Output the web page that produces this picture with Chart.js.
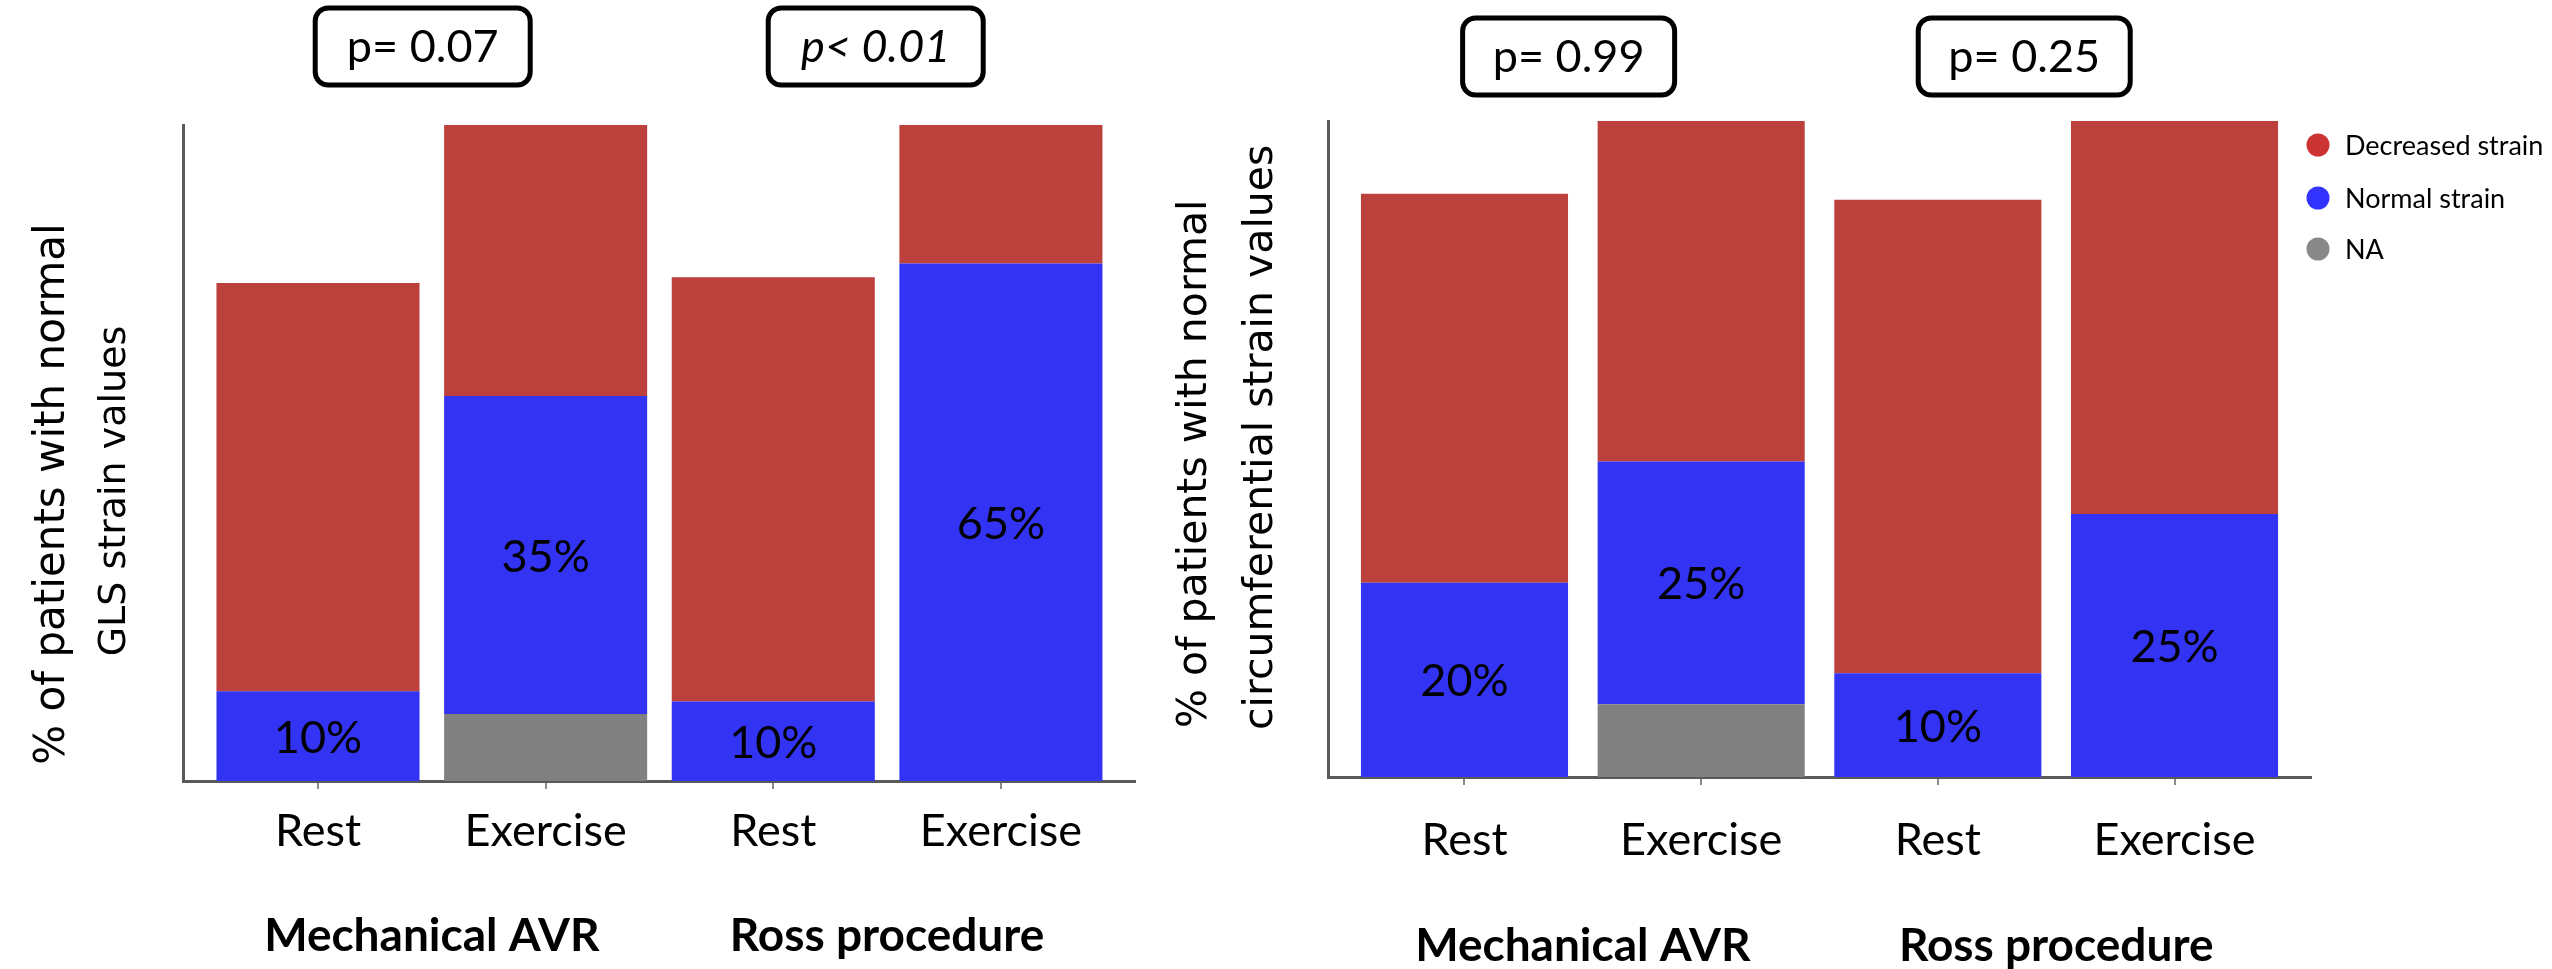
<!DOCTYPE html>
<html><head><meta charset="utf-8">
<script src="https://cdn.jsdelivr.net/npm/chart.js@4.4.1/dist/chart.umd.min.js"></script>
<style>
html,body{margin:0;padding:0;background:#fff;overflow:hidden;}
#wrap{position:relative;width:2552px;height:969px;background:#fff;}
canvas{position:absolute;top:0;}
#c1{left:0;} #c2{left:1150px;}
</style></head><body>
<div id="wrap"><canvas id="c1" width="1150" height="969"></canvas><canvas id="c2" width="1402" height="969"></canvas></div>
<script>
// ---------- DATA ----------
const categories = ['Rest', 'Exercise', 'Rest', 'Exercise'];
const groups = ['Mechanical AVR', 'Ross procedure'];
const seriesNames = ['Decreased strain', 'Normal strain', 'NA'];

// Left panel: GLS strain (stack heights, axis top = 100)
const glsDecreased = [62.2, 41.3, 64.7, 21.1];
const glsNormal    = [13.7, 48.5, 12.1, 78.9];
const glsNA        = [0, 10.2, 0, 0];
const glsLabels    = ['10%', '35%', '10%', '65%'];
const glsP         = ['p= 0.07', 'p< 0.01'];
const glsTitle     = ['% of patients with normal', 'GLS strain values'];

// Right panel: circumferential strain
const circDecreased = [59.3, 51.9, 72.2, 59.9];
const circNormal    = [29.6, 37.0, 15.8, 40.1];
const circNA        = [0, 11.1, 0, 0];
const circLabels    = ['20%', '25%', '10%', '25%'];
const circP         = ['p= 0.99', 'p= 0.25'];
const circTitle     = ['% of patients with normal', 'circumferential strain values'];

// ---------- STYLE ----------
const barColors = ['#BC403C', '#3333F4', '#808080'];   // decreased, normal, NA
const dotColors = ['#CC3333', '#3333FF', '#888888'];

const decorPlugin = {
  id: 'decor',
  afterDraw(chart, args, o) {
    const ctx = chart.ctx, xs = chart.scales.x;
    ctx.save();
    // value labels in the blue segments
    const meta = chart.getDatasetMeta(1);
    ctx.fillStyle = '#000'; ctx.textAlign = 'center'; ctx.textBaseline = 'middle';
    ctx.font = '45px Lato';
    meta.data.forEach((bar, i) => {
      ctx.fillText(o.values[i], bar.x, (bar.y + bar.base) / 2 + 2);
    });
    // group labels
    ctx.font = 'bold 46px Lato';
    groups.forEach((g, i) => ctx.fillText(g, xs.getPixelForValue(o.groupAt[i]), o.groupY));
    // p-value boxes
    o.pTexts.forEach((t, i) => {
      const cx = xs.getPixelForValue(o.pAt[i]);
      const w = o.pW, h = o.pH;
      ctx.beginPath();
      ctx.roundRect(cx - w / 2, o.pTop, w, h, 13);
      ctx.fillStyle = '#fff'; ctx.fill();
      ctx.lineWidth = 5; ctx.strokeStyle = '#000'; ctx.stroke();
      ctx.fillStyle = '#000';
      ctx.font = (o.pItalic[i] ? 'italic ' : '') + '45px Lato';
      ctx.fillText(t, cx, o.pTop + h / 2 + 1);
    });
    // rotated y title
    o.yLines.forEach((line, i) => {
      ctx.save();
      ctx.font = o.yFonts[i];
      ctx.translate(o.yX[i], o.yY[i]);
      ctx.rotate(-Math.PI / 2);
      ctx.textAlign = o.yAlign; ctx.textBaseline = 'middle';
      ctx.fillText(line, 0, 0);
      ctx.restore();
    });
    // legend
    if (o.legend) {
      const L = o.legend;
      ctx.font = '27px Lato'; ctx.textAlign = 'left'; ctx.textBaseline = 'middle';
      seriesNames.forEach((n, i) => {
        ctx.beginPath(); ctx.arc(L.dotX, L.ys[i], 11.5, 0, Math.PI * 2);
        ctx.fillStyle = dotColors[i]; ctx.fill();
        ctx.fillStyle = '#000';
        ctx.fillText(n, L.textX, L.ys[i] + 1);
      });
    }
    ctx.restore();
  }
};

function makeChart(id, d) {
  const xs = categories.map((_, i) => i + 1);
  const pts = arr => arr.map((v, i) => ({ x: xs[i], y: v }));
  return new Chart(document.getElementById(id), {
    type: 'bar',
    data: {
      datasets: [
        { label: seriesNames[2], data: pts(d.na), backgroundColor: barColors[2] },
        { label: seriesNames[1], data: pts(d.normal), backgroundColor: barColors[1] },
        { label: seriesNames[0], data: pts(d.decreased), backgroundColor: barColors[0] }
      ]
    },
    options: {
      responsive: false, animation: false, devicePixelRatio: 1,
      layout: { padding: { top: d.top, right: d.right, left: 0, bottom: 0 } },
      datasets: { bar: { categoryPercentage: 1, barPercentage: d.barPct, borderWidth: 0 } },
      scales: {
        x: {
          type: 'linear', stacked: true, min: d.xmin, max: d.xmax, offset: false,
          afterBuildTicks: s => { s.ticks = s.ticks.filter(t => Number.isInteger(t.value)); },
          afterFit: s => { s.height = d.xh; },
          grid: { display: true, offset: false, drawOnChartArea: false, drawTicks: true, tickLength: 8, color: '#8a8a8a', lineWidth: 2 },
          border: { display: true, color: '#5a5a5a', width: 3 },
          ticks: {
            stepSize: 1, includeBounds: false, autoSkip: false, maxRotation: 0, minRotation: 0,
            padding: d.tickPad, color: '#000', font: { family: 'Lato', size: 45 },
            callback: v => Number.isInteger(v) ? categories[v - 1] : ''
          }
        },
        y: {
          stacked: true, min: 0, max: 100,
          afterFit: s => { s.width = d.yw; },
          grid: { display: false },
          border: { display: true, color: '#5a5a5a', width: 3 },
          ticks: { display: false }
        }
      },
      plugins: {
        legend: { display: false }, tooltip: { enabled: false },
        decor: d.decor
      }
    },
    plugins: [decorPlugin]
  });
}

makeChart('c1', {
  na: glsNA, normal: glsNormal, decreased: glsDecreased,
  top: 125, right: 15, yw: 183, xh: 188, xmin: 0.407, xmax: 4.589, barPct: 0.892, tickPad: 15,
  decor: {
    values: glsLabels, groupAt: [1.5, 3.5], groupY: 936,
    pTexts: glsP, pAt: [1.46, 3.45], pItalic: [false, true], pTop: 8, pH: 77, pW: 215,
    yLines: glsTitle, yFonts: ['42px "DejaVu Sans"', '38px "DejaVu Sans"'],
    yX: [53, 115], yY: [494, 491], yAlign: 'center'
  }
});

makeChart('c2', {
  na: circNA, normal: circNormal, decreased: circDecreased,
  top: 121, right: 241, yw: 178, xh: 192, xmin: 0.4233, xmax: 4.5767, barPct: 0.875, tickPad: 28,
  decor: {
    values: circLabels, groupAt: [1.5, 3.5], groupY: 946,
    pTexts: circP, pAt: [1.44, 3.365], pItalic: [false, false], pTop: 18, pH: 77, pW: 212,
    yLines: circTitle, yFonts: ['41px "DejaVu Sans"', '41px "DejaVu Sans"'],
    yX: [45, 111], yY: [728, 730], yAlign: 'left',
    legend: { dotX: 1168, textX: 1195, ys: [145, 198, 249] }
  }
});
</script>
</body></html>
